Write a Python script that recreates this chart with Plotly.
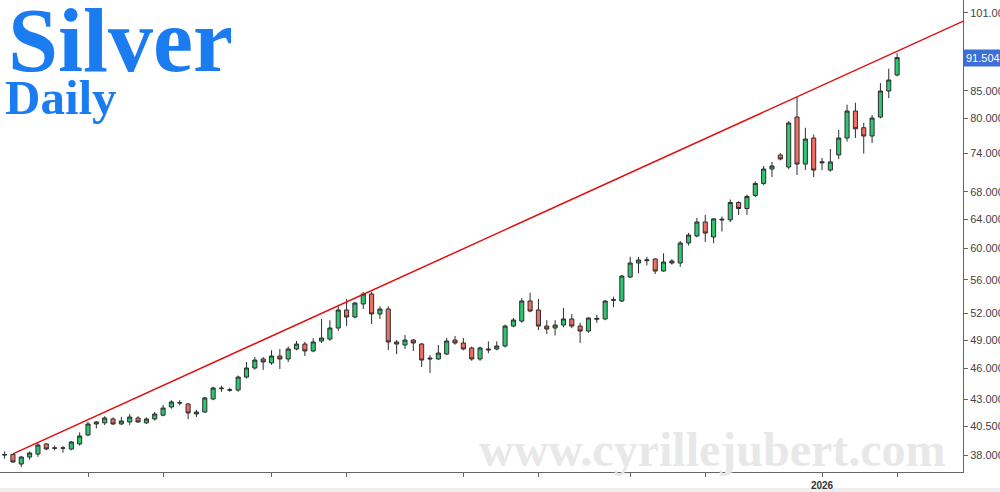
import math
import pandas as pd
import plotly.graph_objects as go

# ---------------- data ----------------
dates = pd.bdate_range("2025-08-18", "2026-01-14").strftime("%Y-%m-%d").tolist()

open_ = [38.00, 38.05, 37.25, 37.83, 38.08, 38.94, 38.60, 38.58, 38.50, 38.94,
         39.72, 40.70, 40.80, 41.15, 40.70, 40.88, 41.24, 40.80, 41.15, 41.50,
         42.26, 42.63, 42.54, 41.61, 41.79, 43.01, 44.00, 43.90, 43.87, 45.15,
         46.06, 46.99, 46.58, 47.30, 46.99, 48.04, 48.57, 47.83, 48.90, 49.11,
         50.32, 52.37, 51.56, 53.07, 54.25, 51.91, 52.48, 48.79, 48.47, 49.00,
         48.57, 47.09, 46.99, 47.51, 49.00, 48.68, 48.15, 46.99, 48.04, 48.04,
         48.36, 50.54, 51.10, 53.42, 52.37, 50.54, 50.32, 50.65, 51.34, 50.54,
         49.99, 51.30, 51.34, 53.50, 53.42, 56.33, 58.10, 58.40, 58.62, 57.08,
         58.36, 58.10, 60.73, 61.68, 63.62, 61.54, 63.90, 63.92, 66.42, 65.54,
         67.47, 69.28, 71.52, 73.78, 71.84, 80.24, 72.31, 76.60, 72.50, 71.36,
         73.78, 76.60, 81.31, 78.36, 76.94, 80.24, 84.99, 88.05]
high = [38.30, 38.10, 37.90, 38.30, 39.00, 39.00, 38.80, 38.75, 39.20, 39.95,
        40.90, 40.95, 41.40, 41.30, 41.35, 41.60, 41.40, 41.30, 41.80, 42.45,
        42.90, 42.90, 42.60, 42.00, 43.20, 44.20, 44.30, 44.10, 45.30, 46.68,
        47.20, 47.20, 47.90, 48.04, 48.30, 48.90, 48.80, 49.20, 51.34, 51.20,
        52.80, 53.66, 53.30, 54.49, 54.49, 52.80, 52.80, 49.00, 49.55, 49.11,
        48.68, 47.40, 48.47, 49.22, 49.45, 49.22, 48.30, 48.30, 48.85, 48.85,
        50.70, 51.45, 53.77, 54.40, 53.66, 51.20, 51.20, 52.60, 51.90, 50.90,
        51.50, 51.80, 53.50, 53.93, 56.60, 58.90, 58.90, 58.90, 58.70, 59.36,
        58.60, 61.00, 62.10, 64.20, 64.62, 64.10, 64.40, 66.86, 66.60, 67.60,
        69.60, 72.00, 72.65, 74.10, 79.50, 83.87, 78.36, 77.20, 73.30, 74.76,
        78.00, 82.46, 82.82, 79.20, 80.60, 86.50, 89.30, 92.40]
low = [37.70, 37.35, 37.00, 37.60, 37.85, 38.40, 38.40, 38.20, 38.40, 38.80,
       39.60, 40.30, 40.60, 40.60, 40.60, 40.60, 40.80, 40.70, 41.00, 41.40,
       42.10, 42.40, 41.15, 41.33, 41.70, 42.90, 43.70, 43.70, 43.70, 45.00,
       45.90, 45.86, 46.40, 45.96, 46.68, 47.90, 47.30, 47.70, 48.68, 48.90,
       50.00, 50.54, 51.40, 52.48, 50.77, 51.34, 47.93, 47.51, 48.04, 47.83,
       46.16, 45.55, 46.90, 47.40, 48.50, 47.90, 46.80, 46.80, 47.60, 47.90,
       48.20, 50.40, 50.90, 52.10, 50.10, 49.66, 49.50, 50.40, 50.30, 48.69,
       49.80, 50.90, 51.20, 52.70, 53.30, 56.20, 56.80, 57.80, 56.70, 57.00,
       57.90, 57.60, 60.40, 61.50, 60.86, 60.70, 62.30, 63.60, 64.60, 64.62,
       67.20, 69.00, 70.27, 72.90, 71.50, 70.58, 71.36, 70.27, 71.36, 71.10,
       73.10, 76.00, 76.60, 74.00, 75.75, 80.00, 83.67, 87.80]
close = [38.03, 37.42, 37.83, 38.17, 38.85, 38.51, 38.58, 38.60, 39.11, 39.63,
         40.70, 40.88, 41.24, 40.70, 40.97, 41.33, 40.88, 41.15, 41.61, 42.16,
         42.73, 42.66, 41.70, 41.79, 43.11, 44.07, 44.05, 43.86, 45.15, 46.06,
         46.88, 46.68, 47.30, 46.99, 48.04, 48.57, 47.83, 48.79, 49.22, 50.32,
         52.37, 51.56, 53.18, 54.25, 51.91, 52.48, 48.79, 48.57, 49.00, 48.68,
         46.88, 47.00, 47.61, 48.90, 48.68, 48.04, 46.99, 48.15, 47.95, 48.36,
         50.54, 51.22, 53.42, 52.25, 50.54, 50.21, 50.65, 51.34, 50.54, 49.99,
         51.45, 51.40, 53.42, 53.58, 56.45, 58.10, 58.49, 58.50, 57.08, 58.23,
         58.10, 60.73, 61.81, 63.62, 62.08, 64.06, 64.00, 66.42, 65.54, 67.32,
         69.28, 71.52, 72.00, 73.13, 79.19, 72.31, 76.43, 71.36, 72.65, 72.65,
         76.60, 81.31, 78.18, 76.94, 80.06, 84.99, 87.08, 91.504]

y_ticks = [38, 40.5, 43, 46, 49, 52, 56, 60, 64, 68, 74, 80, 85, 92, 101]
x_tick_dates = ["2025-09-01", "2025-09-12", "2025-10-01", "2025-10-14",
                "2025-11-03", "2025-11-14", "2025-12-01", "2025-12-12",
                "2026-01-01", "2026-01-14"]
x_tick_text = ["", "", "", "", "", "", "", "", "<b>2026</b>", ""]

trend_dates = ["2025-08-19", "2025-12-29"]
trend_prices = [38.10, 83.90]

# ---------------- figure ----------------
fig = go.Figure()
fig.add_trace(go.Candlestick(
    x=dates, open=open_, high=high, low=low, close=close,
    increasing=dict(line=dict(color="#2d2d2d", width=1), fillcolor="#2ec771"),
    decreasing=dict(line=dict(color="#2d2d2d", width=1), fillcolor="#f06e64"),
    whiskerwidth=0, showlegend=False, hoverinfo="x+y"))

# trend line extended to the right edge (log-linear through the two anchors)
i0 = dates.index(trend_dates[0])
i1 = dates.index(trend_dates[1])
slope = (math.log(trend_prices[1]) - math.log(trend_prices[0])) / (i1 - i0)
i_end = len(dates) + 20
p_end = math.exp(math.log(trend_prices[0]) + slope * (i_end - i0))
fig.add_shape(type="line", xref="x", yref="y", x0=i0, y0=trend_prices[0],
              x1=i_end, y1=p_end, line=dict(color="#e01010", width=1.5))

PLOT_W, PLOT_H = 963, 472

annotations = [
    dict(text="Silver", xref="paper", yref="paper", x=6 / PLOT_W, y=1 - 41 / PLOT_H,
         xanchor="left", yanchor="middle", showarrow=False,
         font=dict(family="Liberation Serif", size=90, color="#1a7cf0", weight="bold")),
    dict(text="Daily", xref="paper", yref="paper", x=3 / PLOT_W, y=1 - 97 / PLOT_H,
         xanchor="left", yanchor="middle", showarrow=False,
         font=dict(family="Liberation Serif", size=49, color="#1a7cf0", weight="bold")),
    dict(text="www.cyrillejubert.com", xref="paper", yref="paper",
         x=712 / PLOT_W, y=1 - 449 / PLOT_H, xanchor="center", yanchor="middle",
         showarrow=False,
         font=dict(family="Liberation Serif", size=48, color="#e8e8e8", weight="bold")),
    dict(text=f"{close[-1]:.3f}", xref="paper", yref="y", x=1, y=math.log10(close[-1]),
         xanchor="left", yanchor="middle", showarrow=False, bgcolor="#3d6fd9",
         borderpad=2, font=dict(family="Liberation Sans", size=11, color="white")),
]

fig.update_layout(
    width=1000, height=492,
    margin=dict(l=0, r=1000 - PLOT_W, t=0, b=492 - PLOT_H, autoexpand=False),
    paper_bgcolor="white", plot_bgcolor="white", showlegend=False,
    annotations=annotations,
    xaxis=dict(type="category", range=[-0.55, 114.9],
               rangeslider=dict(visible=False), showgrid=False, zeroline=False,
               showline=True, linecolor="#666", linewidth=1,
               ticks="outside", ticklen=4, tickcolor="#666",
               tickvals=x_tick_dates, ticktext=x_tick_text,
               tickfont=dict(family="Liberation Sans", size=10, color="#333"),
               automargin=False),
    yaxis=dict(type="log", side="right", range=[1.56346, 2.01678],
               tickvals=y_ticks, ticktext=[f"{v:.3f}" for v in y_ticks],
               showgrid=False, zeroline=False, showline=True, linecolor="#666",
               linewidth=1, ticks="outside", ticklen=4, tickcolor="#666",
               tickfont=dict(family="Liberation Sans", size=11, color="#444"),
               automargin=False),
)
fig.add_shape(type="rect", xref="paper", yref="paper", x0=0, x1=1000 / PLOT_W,
              y0=-20 / PLOT_H, y1=-16 / PLOT_H, fillcolor="#eeeeee",
              line=dict(width=0), layer="below")

fig.write_html("out.html",
               config={"displayModeBar": False},
               post_script="document.body.style.margin='0px';"
                           "document.body.style.overflow='hidden';")
